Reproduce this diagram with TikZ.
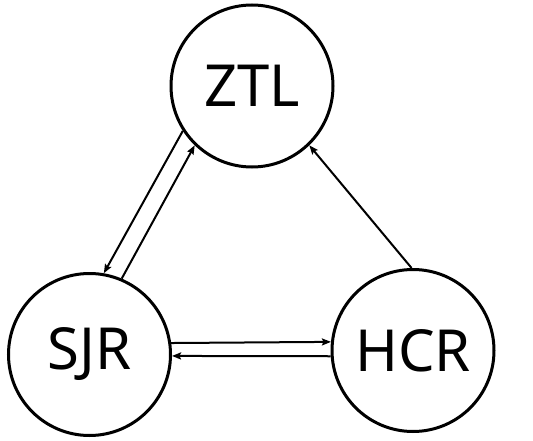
\documentclass[tikz,border=0pt]{standalone}
\usepackage{fontspec}
\setmainfont{Noto Sans}
\usetikzlibrary{arrows.meta}
\begin{document}
\begin{tikzpicture}[x=1pt,y=1pt,
  state/.style={circle,draw,line width=3pt,minimum size=162pt,inner sep=0pt,font=\fontsize{58}{60}\selectfont},
  conn/.style={line width=2pt,-{Stealth[length=9pt,width=7pt,inset=1.5pt]}}]
\useasboundingbox (0,0) rectangle (533,440);
\node[state] (ztl) at (252,354) {ZTL};
\node[state] (sjr) at (89.5,85.5) {SJR};
\node[state] (hcr) at (413,89.5) {HCR};
\draw[conn] (ztl.213) -- (sjr.80);
\draw[conn] (sjr.67) -- (ztl.226);
\draw[conn] (sjr.8) -- (hcr.174.5);
\draw[conn] (hcr.184.4) -- (sjr.-1.6);
\draw[conn] (hcr.91) -- (ztl.-46);
\end{tikzpicture}
\end{document}
